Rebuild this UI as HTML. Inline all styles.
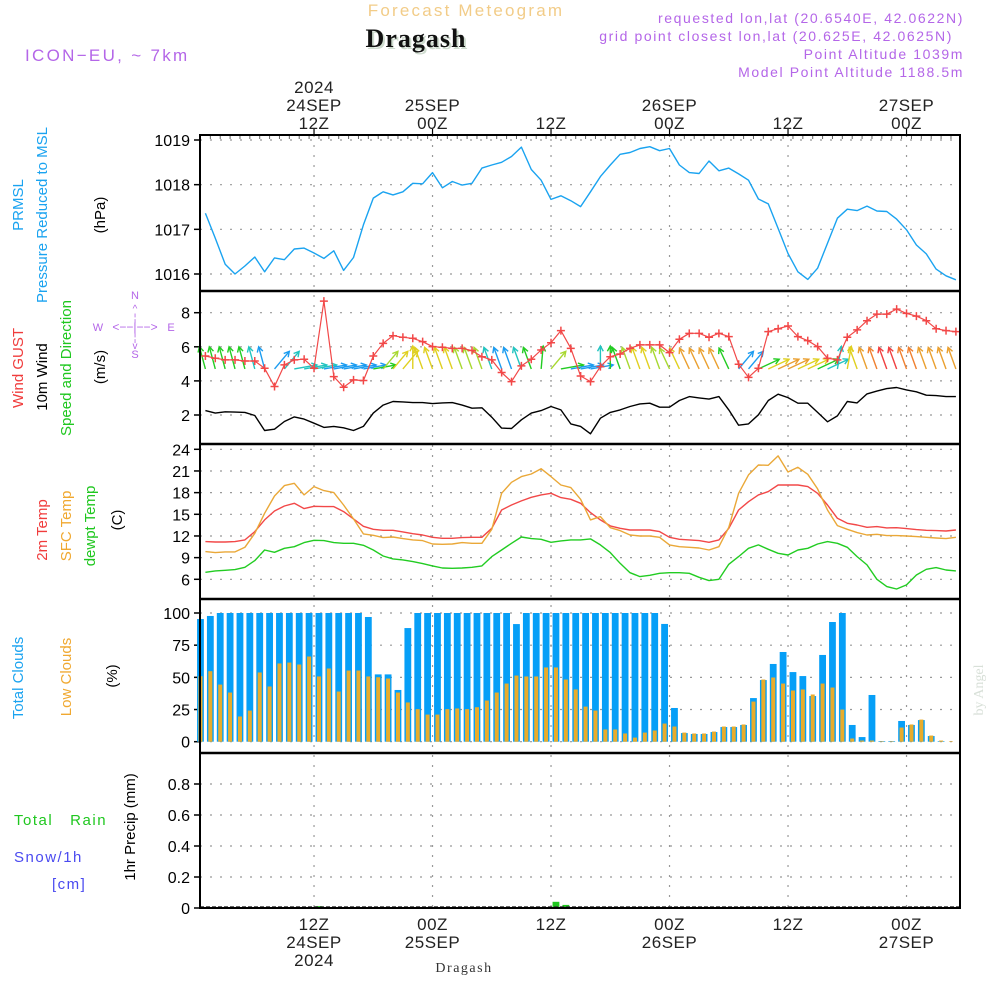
<!DOCTYPE html>
<html><head><meta charset="utf-8"><title>Meteogram Dragash</title>
<style>
html,body{margin:0;padding:0;background:#fff;}
svg{display:block;font-family:"Liberation Sans",sans-serif;}
</style></head>
<body>
<svg id="chart" width="1000" height="1000" viewBox="0 0 1000 1000" xmlns="http://www.w3.org/2000/svg">
<rect x="0" y="0" width="1000" height="1000" fill="#fff"/>
<g id="texts">
<text x="466" y="16" text-anchor="middle" font-size="17" fill="#f2cc88" letter-spacing="2.2">Forecast Meteogram</text>
<text x="418" y="49" text-anchor="middle" font-size="26" font-weight="bold" font-family="Liberation Serif, serif" fill="#cfdccf" letter-spacing="1">Dragash</text>
<text x="416" y="47" text-anchor="middle" font-size="26" font-weight="bold" font-family="Liberation Serif, serif" fill="#111" letter-spacing="1">Dragash</text>
<text x="25" y="61" font-size="17" fill="#b466e8" letter-spacing="2.3">ICON−EU, ~ 7km</text>
<text x="964" y="23" text-anchor="end" font-size="14" fill="#b466e8" letter-spacing="1.6">requested lon,lat (20.6540E, 42.0622N)</text>
<text x="953" y="41" text-anchor="end" font-size="14" fill="#b466e8" letter-spacing="1.6">grid point closest lon,lat (20.625E, 42.0625N)</text>
<text x="964" y="59" text-anchor="end" font-size="14" fill="#b466e8" letter-spacing="1.6">Point Altitude 1039m</text>
<text x="964" y="77" text-anchor="end" font-size="14" fill="#b466e8" letter-spacing="1.6">Model Point Altitude 1188.5m</text>
<text x="464" y="972" text-anchor="middle" font-size="14" font-family="Liberation Serif, serif" fill="#333" letter-spacing="1.5">Dragash</text>
<text transform="translate(983,690) rotate(-90)" text-anchor="middle" font-size="14" font-family="Liberation Serif, serif" fill="#d8e0d8">by Angel</text>
</g>
<g font-size="15">
<text transform="translate(23,205) rotate(-90)" text-anchor="middle" fill="#1aa3f0">PRMSL</text>
<text transform="translate(47,215) rotate(-90)" text-anchor="middle" fill="#1aa3f0">Pressure Reduced to MSL</text>
<text transform="translate(105,215) rotate(-90)" text-anchor="middle" fill="#000">(hPa)</text>
<text transform="translate(23,368) rotate(-90)" text-anchor="middle" fill="#f03c3c">Wind GUST</text>
<text transform="translate(47,377) rotate(-90)" text-anchor="middle" fill="#000">10m Wind</text>
<text transform="translate(71,368) rotate(-90)" text-anchor="middle" fill="#1fc71f">Speed and Direction</text>
<text transform="translate(105,367) rotate(-90)" text-anchor="middle" fill="#000">(m/s)</text>
<text transform="translate(47,530) rotate(-90)" text-anchor="middle" fill="#f03c3c">2m Temp</text>
<text transform="translate(71,526) rotate(-90)" text-anchor="middle" fill="#f0a830">SFC Temp</text>
<text transform="translate(95,526) rotate(-90)" text-anchor="middle" fill="#1fc71f">dewpt Temp</text>
<text transform="translate(122,520) rotate(-90)" text-anchor="middle" fill="#000">(C)</text>
<text transform="translate(23,678) rotate(-90)" text-anchor="middle" fill="#1aa3f0">Total Clouds</text>
<text transform="translate(71,677) rotate(-90)" text-anchor="middle" fill="#f0a830">Low Clouds</text>
<text transform="translate(117,676) rotate(-90)" text-anchor="middle" fill="#000">(%)</text>
<text transform="translate(135,827) rotate(-90)" text-anchor="middle" fill="#000">1hr Precip (mm)</text>
<text x="14" y="825" font-size="15" fill="#1fc71f" letter-spacing="1.5" xml:space="preserve">Total   Rain</text>
<text x="14" y="862" font-size="15" fill="#4a4af0" letter-spacing="1.5">Snow/1h</text>
<text x="52" y="889" font-size="15" fill="#4a4af0" letter-spacing="1.5">[cm]</text>
<g fill="#b466e8" font-size="11" text-anchor="middle">
<text x="135" y="299">N</text><text x="135" y="358">S</text><text x="98" y="331">W</text><text x="171" y="331">E</text>
<text x="135" y="331" font-size="12">&lt;−−|−−&gt;</text>
<text x="135" y="312" font-size="10">^</text><text x="135" y="321" font-size="10">¦</text>
<text x="135" y="341" font-size="10">¦</text><text x="135" y="349" font-size="10">v</text>
</g>
</g>
<g id="plot"></g>
</svg>
<script>
// ---- data (hourly from 01Z 24SEP) ----
const pressure = [1017.36,1016.80,1016.22,1016.0,1016.18,1016.38,1016.05,1016.36,1016.32,1016.56,1016.58,1016.47,1016.35,1016.52,1016.08,1016.37,1017.10,1017.70,1017.84,1017.77,1017.84,1018.03,1018.02,1018.27,1017.93,1018.07,1017.99,1018.03,1018.37,1018.44,1018.5,1018.63,1018.84,1018.34,1018.1,1017.67,1017.75,1017.64,1017.51,1017.84,
1018.18,1018.44,1018.68,1018.72,1018.81,1018.85,1018.76,1018.81,1018.44,1018.27,1018.25,1018.53,1018.31,1018.37,1018.24,1018.1,1017.68,1017.57,1017.02,1016.46,1016.05,1015.88,1016.13,1016.69,1017.25,1017.45,1017.42,1017.52,1017.41,1017.40,1017.23,1016.99,1016.65,1016.45,1016.11,1015.96,1015.87];
const windSpeed = [2.26,2.11,2.19,2.17,2.15,1.97,1.09,1.17,1.62,1.89,1.76,1.52,1.27,1.33,1.25,1.09,1.33,2.11,2.58,2.79,2.77,2.73,2.73,2.67,2.71,2.73,2.58,2.40,2.42,1.87,1.23,1.21,1.72,2.11,2.26,2.50,2.30,1.48,1.33,0.90,
1.81,2.15,2.30,2.50,2.65,2.69,2.46,2.46,2.85,3.08,3.0,2.93,3.08,2.30,1.40,1.48,2.01,2.85,3.22,3.02,2.69,2.69,2.15,1.60,1.95,2.79,2.71,3.24,3.40,3.55,3.61,3.47,3.36,3.16,3.14,3.08,3.08];
const windGust = [5.46,5.33,5.23,5.23,5.17,5.17,4.74,3.67,4.94,5.23,5.27,4.74,8.68,4.25,3.63,4.06,4.02,5.46,6.20,6.65,6.56,6.50,6.30,6.01,5.97,5.91,5.91,5.78,5.42,5.23,4.49,3.96,4.88,5.27,5.81,6.24,6.95,5.91,4.29,3.96,
4.84,5.42,5.58,5.91,6.11,6.11,6.11,5.66,6.44,6.79,6.79,6.56,6.79,6.60,4.98,4.21,4.74,6.89,7.06,7.22,6.60,6.36,6.01,5.33,5.23,6.56,6.99,7.53,7.92,7.92,8.21,7.96,7.80,7.53,7.06,6.95,6.89];
const windDir = [-15,-15,-15,-15,-15,-15,-15,40,40,80,80,80,80,80,80,80,80,80,40,40,40,0,-20,-20,-20,-20,-20,-20,-20,-20,-20,-20,-20,-20,5,40,80,80,80,80,
0,0,-20,-20,-20,-20,-20,-25,-25,-25,-25,-25,-25,-25,40,40,65,65,65,65,65,65,65,65,10,10,-20,-20,-20,-20,-20,-20,-20,-20,-20,-20,-20];
const temp2m = [11.22,11.17,11.17,11.22,11.45,12.6,14.22,15.46,16.15,16.52,15.79,16.11,16.06,16.06,15.37,14.36,13.34,12.92,12.79,12.79,12.56,12.32,12.14,11.82,11.68,11.68,11.77,11.82,11.82,13.06,15.6,16.29,16.85,17.35,17.68,17.91,17.31,17.08,16.52,15.23,
14.22,13.39,13.06,12.83,12.83,12.83,12.6,11.82,11.54,11.45,11.36,11.12,11.45,13.06,15.6,16.75,17.68,18.14,19.06,19.06,19.06,18.83,17.91,16.29,14.45,13.76,13.52,13.2,13.29,13.11,13.15,13.02,12.88,12.79,12.74,12.69,12.83];
const tempSfc = [9.83,9.69,9.79,9.79,10.43,12.37,15.14,17.54,18.97,19.29,17.68,18.83,18.28,18.0,16.29,14.36,12.28,12.09,11.77,11.86,11.63,11.45,11.36,10.89,10.85,10.89,11.08,10.99,10.99,12.92,17.91,19.43,20.22,20.58,21.32,20.22,19.06,18.69,17.08,14.22,
14.68,13.15,12.74,12.14,12.0,12.0,11.82,10.76,10.52,10.43,10.34,10.06,10.52,13.2,17.91,20.45,21.83,21.78,23.08,20.86,21.51,20.54,18.51,15.6,13.43,12.92,12.46,12.14,12.23,12.05,12.05,12.0,11.91,11.82,11.72,11.63,11.82];
const dewpt = [6.97,7.16,7.25,7.34,7.66,8.59,10.06,9.74,10.29,10.52,11.08,11.4,11.36,11.08,10.99,10.99,10.71,10.06,9.23,8.82,8.68,8.45,8.17,7.85,7.57,7.53,7.57,7.66,7.85,9.14,10.06,10.99,11.86,11.63,11.54,11.12,11.31,11.45,11.45,11.59,
10.76,9.69,8.22,6.92,6.37,6.56,6.83,6.92,6.92,6.83,6.28,5.82,6.0,8.08,9.14,10.29,10.76,10.15,9.6,9.37,10.06,10.29,10.89,11.22,10.99,10.43,9.14,7.99,6.0,4.99,4.66,5.22,6.6,7.39,7.62,7.29,7.16];
const totalClouds = [95.3,97.7,100,100,100,100,100,100,100,100,100,100,100,100,100,100,100,96.9,52.3,52.3,40.2,88.3,100,100,100,100,100,100,100,100,100,100,91.4,100,100,100,100,100,100,
100,100,100,100,100,100,100,100,91.5,26.2,6.7,6.0,6.0,7.5,11.4,11.4,13.0,33.9,47.9,60.4,69.7,54.1,51.0,35.5,67.4,93.0,100,13.0,3.6,36.3,0.5,0.5,16.1,13.0,16.8,4.4,0.5,0];
const lowClouds = [50.5,54.4,44,37.8,19.2,23.8,53.4,42.5,60.4,61.1,59.6,65.8,50.3,56.5,38.6,54.9,54.9,50.3,49.7,48.7,37.8,30.1,24.9,20.7,20.7,24.9,25.4,24.9,26.4,31.6,37.8,44.8,51,50.3,50.3,57.3,57.3,47.9,40.2,
26.9,23.8,9.1,9.1,6.0,2.8,6.7,8.3,13.7,11.4,6.7,6.0,6.0,7.5,11.4,11.4,13.0,30.8,47.9,49.5,44.8,39.4,40.2,36.3,44.8,41.7,24.6,2.1,0.5,0.5,0,0,10.6,13.0,16.8,4.4,0.5,0];
const rain = [0,0,0,0,0,0,0,0,0,0,0,0,0.012,0,0,0,0,0,0,0,0,0,0,0,0,0,0,0,0,0,0,0,0,0,0,0,0.04,0.02,0,0,0,0,0,0,0,0,0,0,0,0,0,0,0,0,0,0,0,0,0,0,0,0,0,0,0,0,0,0,0,0,0,0,0,0,0,0,0];
const pressTicks = [1016,1017,1018,1019];
const windTicks = [2,4,6,8];
const tempTicks = [6,9,12,15,18,21,24];
const cloudTicks = [0,25,50,75,100];
const rainTicks = [0,0.2,0.4,0.6,0.8];
const timeTickHours = [11,23,35,47,59,71]; // hours after 01Z 24SEP
const topTimeLabels = [["2024","24SEP","12Z"],["","25SEP","00Z"],["","","12Z"],["","26SEP","00Z"],["","","12Z"],["","27SEP","00Z"]];
const bottomTimeLabels = [["12Z","24SEP","2024"],["00Z","25SEP",""],["12Z","",""],["00Z","26SEP",""],["12Z","",""],["00Z","27SEP",""]];

// ---- layout ----
const NS="http://www.w3.org/2000/svg";
const L=200,R=960;
const X = h => 205.4 + h*9.875;
const panels = {
  p:{top:135,bot:291,lin:[1019,140,1016,274]},
  w:{top:291,bot:444,lin:[8,312.7,2,415]},
  t:{top:444,bot:599,lin:[24,449.3,6,579.3]},
  c:{top:599,bot:753,lin:[100,613,0,741.7]},
  r:{top:753,bot:908,lin:[0.8,784,0,908]}
};
function yf(p){const [v1,y1,v2,y2]=panels[p].lin;return v=>y1+(v-v1)*(y2-y1)/(v2-v1);}
const Yp=yf('p'),Yw=yf('w'),Yt=yf('t'),Yc=yf('c'),Yr=yf('r');
const plot=document.getElementById('plot');
function mk(tag,attrs,parent){const e=document.createElementNS(NS,tag);for(const k in attrs)e.setAttribute(k,attrs[k]);(parent||plot).appendChild(e);return e;}

// grids
const grid=mk('g',{});


function hgrid(ticks,Y,p){ticks.forEach(v=>{const l=mk('line',{x1:L,x2:R,y1:Y(v),y2:Y(v),stroke:'#999','stroke-width':1.2,'stroke-dasharray':'2,8'},grid);

});}
hgrid(pressTicks,Yp,'pressure');hgrid(windTicks,Yw,'wind');hgrid(tempTicks,Yt,'temp');hgrid(cloudTicks,Yc,'cloud');hgrid(rainTicks.slice(1),Yr,'rain');
timeTickHours.forEach(h=>{const l=mk('line',{x1:X(h),x2:X(h),y1:135,y2:908,stroke:'#999','stroke-width':1.2,'stroke-dasharray':'2,8'},grid);

});

// y tick labels
function ylabels(ticks,Y,p,fmt){ticks.forEach(v=>{const t=mk('text',{x:190,y:Y(v)+6,'text-anchor':'end','font-size':16,fill:'#000'});t.textContent=fmt?fmt(v):v;


const k=mk('line',{x1:194,x2:200,y1:Y(v),y2:Y(v),stroke:'#000','stroke-width':1.5});

});}
ylabels(pressTicks,Yp,'pressure');ylabels(windTicks,Yw,'wind');ylabels(tempTicks,Yt,'temp');ylabels(cloudTicks,Yc,'cloud');ylabels(rainTicks,Yr,'rain',v=>v===0?'0':v.toFixed(1));

// time labels
timeTickHours.forEach((h,k)=>{
  topTimeLabels[k].forEach((s,j)=>{if(!s)return;const t=mk('text',{x:X(h),y:93+j*18,'text-anchor':'middle','font-size':17,fill:'#222','letter-spacing':'0.5'});t.textContent=s;
  
  });
  bottomTimeLabels[k].forEach((s,j)=>{if(!s)return;const t=mk('text',{x:X(h),y:930+j*18,'text-anchor':'middle','font-size':17,fill:'#222','letter-spacing':'0.5'});t.textContent=s;
  
  });
  const a=mk('line',{x1:X(h),x2:X(h),y1:129,y2:135,stroke:'#000','stroke-width':1.2});
  
  
});
for(let h=-0.5;h<76;h++){const a=mk('line',{x1:X(h),x2:X(h),y1:136,y2:139,stroke:'#666','stroke-width':1});

}

// clouds bars
const gc=mk('g',{});


totalClouds.forEach((v,i)=>{const cx=X(i-0.5);const b=mk('rect',{x:cx-3.4,y:Yc(v),width:6.8,height:Yc(0)-Yc(v),fill:'#069ff7'},gc);

});
lowClouds.forEach((v,i)=>{const cx=X(i-0.5);const b=mk('rect',{x:cx-2,y:Yc(v)-0.5,width:4,height:Yc(0)-Yc(v)+0.5,fill:'#e8ac2c'},gc);

});
// rain
const gr=mk('g',{});


rain.forEach((v,i)=>{if(v<=0)return;const cx=X(i-0.5);const b=mk('rect',{x:cx-3.4,y:Yr(v),width:6.8,height:Yr(0)-Yr(v),fill:'#1fc71f'},gr);

});
const rb=mk('line',{x1:L,x2:R,y1:907,y2:907,stroke:'#333','stroke-width':1.5,'stroke-dasharray':'4,2'});



// lines
function poly(arr,Y,color,name,w){const pts=arr.map((v,i)=>X(i).toFixed(1)+','+Y(v).toFixed(1)).join(' ');const p=mk('polyline',{points:pts,fill:'none',stroke:color,'stroke-width':w||1.4,'stroke-linejoin':'round'});

return p;}
poly(pressure,Yp,'#1aa3f0','pressure-line');
poly(windSpeed,Yw,'#000','wind-speed-line');
poly(temp2m,Yt,'#f24848','temp-2m-line');
poly(tempSfc,Yt,'#eaa838','temp-sfc-line');
poly(dewpt,Yt,'#22cc22','dewpoint-line');

// wind arrows
function spdColor(s){if(s<1.5)return '#1b9cf0';if(s<2.0)return '#22c4c0';if(s<2.4)return '#22cc22';if(s<2.6)return '#a8d830';if(s<2.9)return '#e0d020';if(s<3.3)return '#eaa030';if(s<3.5)return '#f08030';return '#f04040';}
const ga=mk('g',{});


windDir.forEach((d,i)=>{const a=d*Math.PI/180;const len=23;const x0=X(i),y0=Yw(4.7);const x1=x0+len*Math.sin(a),y1=y0-len*Math.cos(a);
const c=spdColor(windSpeed[i]);const g=mk('g',{stroke:c,'stroke-width':1.4,fill:'none'},ga);


mk('line',{x1:x0,y1:y0,x2:x1,y2:y1},g);
const h=6,sp=0.5;
mk('polyline',{points:`${x1-h*Math.sin(a-sp)},${y1+h*Math.cos(a-sp)} ${x1},${y1} ${x1-h*Math.sin(a+sp)},${y1+h*Math.cos(a+sp)}`},g);});

// gust
poly(windGust,Yw,'#f24848','wind-gust-line',1.2);
const gg=mk('g',{stroke:'#f24848','stroke-width':1.5});


windGust.forEach((v,i)=>{const x=X(i),y=Yw(v);const m=mk('path',{d:`M${x-4},${y}H${x+4}M${x},${y-4}V${y+4}`},gg);

});

// frames
const gf=mk('g',{fill:'none',stroke:'#000'});


mk('rect',{x:L,y:135,width:R-L,height:773,'stroke-width':2},gf);
[291,444,599,753].forEach(y=>{const l=mk('line',{x1:L,x2:R,y1:y,y2:y,'stroke-width':2.5},gf);

});
</script>
</body></html>
